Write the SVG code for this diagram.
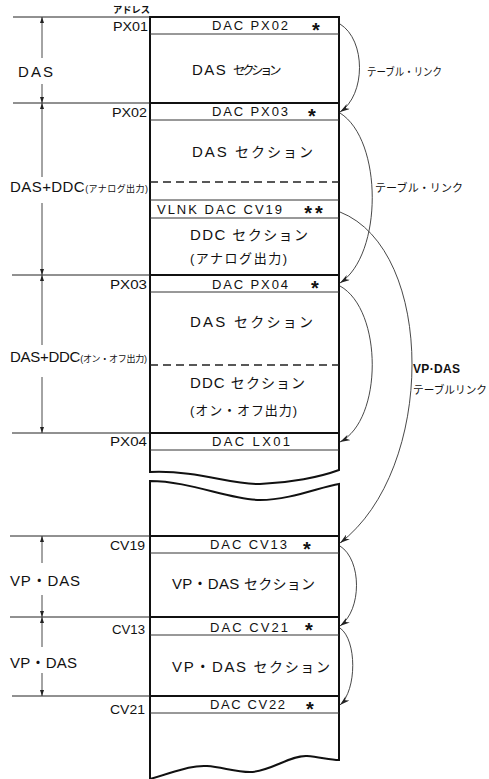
<svg xmlns="http://www.w3.org/2000/svg" width="489" height="779" viewBox="0 0 489 779">
<defs>
<style>
text{font-family:"Liberation Sans","Noto Sans CJK JP",sans-serif;fill:#111}
.frame{fill:none;stroke:#111;stroke-width:2}
.sep{stroke:#111;stroke-width:2}
.row{stroke:#333;stroke-width:1}
.ext{stroke:#222;stroke-width:1}
.dash{stroke:#222;stroke-width:1.3;stroke-dasharray:8 5}
.arc{fill:none;stroke:#333;stroke-width:0.9}
.dim{stroke:#333;stroke-width:0.9}
.hdr{font-size:13px}
.adr{font-size:12px}
.big{font-size:15px}
.sm{font-size:9px}
.kana{font-size:14px}
.star{font-size:20px;font-weight:bold;text-anchor:middle}
.note{font-size:11px}
</style>
<marker id="ah" viewBox="0 0 10 6" refX="10" refY="3" markerWidth="10" markerHeight="6" markerUnits="userSpaceOnUse" orient="auto"><path d="M0,0 L10,3 L0,6 L3,3 z" fill="#222"/></marker>
<marker id="dh" viewBox="0 0 6 4" refX="6" refY="2" markerWidth="6" markerHeight="4" markerUnits="userSpaceOnUse" orient="auto"><path d="M0,0 L6,2 L0,4 z" fill="#222"/></marker>
</defs>
<rect width="489" height="779" fill="#fff"/>

<g id="frame">
<path class="frame" d="M150,472 C200,470 230,485 260,484 C290,483 320,477 339,470 L339,17 L150,17 Z"/>
<path class="frame" d="M150,779 L150,481 C190,481 230,500 260,500 C290,500 320,487 339,484 L339,760 C330,760 320,757 307,756 C290,755 270,772 250,772 C235,772 222,767 207,766 C190,765 175,772 150,779"/>
<text x="113" y="13" class="sm" font-weight="bold" textLength="37" lengthAdjust="spacingAndGlyphs">アドレス</text>
</g>

<g id="dimensions">
<line class="ext" x1="13" y1="17" x2="150" y2="17"/>
<line class="ext" x1="13" y1="103" x2="150" y2="103"/>
<line class="ext" x1="12" y1="275" x2="150" y2="275"/>
<line class="ext" x1="12" y1="433" x2="150" y2="433"/>
<line class="ext" x1="10" y1="536" x2="150" y2="536"/>
<line class="ext" x1="10" y1="617" x2="150" y2="617"/>
<line class="ext" x1="12" y1="696" x2="150" y2="696"/>
<path class="dim" d="M42,58 L42,17" marker-end="url(#dh)"/>
<path class="dim" d="M42,84 L42,103" marker-end="url(#dh)"/>
<path class="dim" d="M42,177 L42,103" marker-end="url(#dh)"/>
<path class="dim" d="M42,203 L42,275" marker-end="url(#dh)"/>
<path class="dim" d="M42,345 L42,275" marker-end="url(#dh)"/>
<path class="dim" d="M42,377 L42,433" marker-end="url(#dh)"/>
<path class="dim" d="M42,563 L42,536" marker-end="url(#dh)"/>
<path class="dim" d="M42,595 L42,617" marker-end="url(#dh)"/>
<path class="dim" d="M42,647 L42,617" marker-end="url(#dh)"/>
<path class="dim" d="M42,673 L42,696" marker-end="url(#dh)"/>
<text x="18" y="77" class="big" textLength="35">DAS</text>
<text x="10" y="192" class="big" textLength="138">DAS+DDC<tspan class="sm">(アナログ出力)</tspan></text>
<text x="10" y="362" class="big" textLength="137">DAS+DDC<tspan class="sm">(オン・オフ出力)</tspan></text>
<text x="10" y="586" class="big" textLength="70">VP・DAS</text>
<text x="10" y="668" class="big" textLength="67">VP・DAS</text>
</g>

<g id="node-px01">
<line class="row" x1="150" y1="34" x2="339" y2="34"/>
<text x="113" y="31" class="adr" textLength="35" lengthAdjust="spacingAndGlyphs">PX01</text>
<text x="212" y="30" class="hdr" textLength="76">DAC PX02</text>
<text x="316" y="37" class="star">*</text>
<text x="192" y="75" class="big" letter-spacing="1.5">DAS <tspan style="font-size:12.5px;letter-spacing:-3.5px">セクション</tspan></text>
</g>

<g id="node-px02">
<line class="sep" x1="150" y1="103" x2="339" y2="103"/>
<line class="row" x1="150" y1="120" x2="339" y2="120"/>
<text x="112" y="117" class="adr" textLength="35" lengthAdjust="spacingAndGlyphs">PX02</text>
<text x="212" y="116" class="hdr" textLength="76">DAC PX03</text>
<text x="312" y="123" class="star">*</text>
<text x="192" y="157" class="big" textLength="121">DAS <tspan class="kana">セクション</tspan></text>
<line class="dash" x1="150" y1="182" x2="339" y2="182"/>
<line class="row" x1="150" y1="200" x2="339" y2="200"/>
<line class="row" x1="150" y1="218" x2="339" y2="218"/>
<text x="157" y="214" class="hdr" textLength="125">VLNK DAC CV19</text>
<text x="315" y="220" class="star" letter-spacing="3">**</text>
<text x="190" y="240" class="big" textLength="118">DDC <tspan class="kana">セクション</tspan></text>
<text x="190" y="263" class="big" textLength="97" style="font-size:13px">(アナログ出力)</text>
</g>

<g id="node-px03">
<line class="sep" x1="150" y1="275" x2="339" y2="275"/>
<line class="row" x1="150" y1="292" x2="339" y2="292"/>
<text x="110" y="289" class="adr" textLength="37" lengthAdjust="spacingAndGlyphs">PX03</text>
<text x="212" y="289" class="hdr" textLength="76">DAC PX04</text>
<text x="315" y="295" class="star">*</text>
<text x="190" y="327" class="big" textLength="123">DAS <tspan class="kana">セクション</tspan></text>
<line class="dash" x1="150" y1="365" x2="339" y2="365"/>
<text x="190" y="388" class="big" textLength="115">DDC <tspan class="kana">セクション</tspan></text>
<text x="190" y="415" class="big" textLength="107" style="font-size:13px">(オン・オフ出力)</text>
</g>

<g id="node-px04">
<line class="sep" x1="150" y1="433" x2="339" y2="433"/>
<line class="row" x1="150" y1="450" x2="339" y2="450"/>
<text x="110" y="446" class="adr" textLength="37" lengthAdjust="spacingAndGlyphs">PX04</text>
<text x="212" y="446" class="hdr" textLength="78">DAC LX01</text>
</g>

<g id="node-cv19">
<line class="sep" x1="150" y1="536" x2="339" y2="536"/>
<line class="row" x1="150" y1="553" x2="339" y2="553"/>
<text x="110" y="550" class="adr" textLength="35" lengthAdjust="spacingAndGlyphs">CV19</text>
<text x="210" y="549" class="hdr" textLength="77">DAC CV13</text>
<text x="307" y="556" class="star">*</text>
<text x="172" y="589" class="big" textLength="143">VP・DAS <tspan class="kana">セクション</tspan></text>
</g>

<g id="node-cv13">
<line class="sep" x1="150" y1="617" x2="339" y2="617"/>
<line class="row" x1="150" y1="635" x2="339" y2="635"/>
<text x="112" y="634" class="adr" textLength="33" lengthAdjust="spacingAndGlyphs">CV13</text>
<text x="210" y="632" class="hdr" textLength="78">DAC CV21</text>
<text x="309" y="637" class="star">*</text>
<text x="172" y="672" class="big" textLength="158">VP・DAS <tspan class="kana">セクション</tspan></text>
</g>

<g id="node-cv21">
<line class="sep" x1="150" y1="696" x2="339" y2="696"/>
<line class="row" x1="150" y1="713" x2="339" y2="713"/>
<text x="110" y="714" class="adr" textLength="35" lengthAdjust="spacingAndGlyphs">CV21</text>
<text x="210" y="709" class="hdr" textLength="75">DAC CV22</text>
<text x="310" y="716" class="star">*</text>
</g>

<g id="connectors">
<path class="arc" d="M340,24 C366,40 366,95 340,112" marker-end="url(#ah)"/>
<path class="arc" d="M340,113 C383,140 383,255 340,283" marker-end="url(#ah)"/>
<path class="arc" d="M340,212 C436,250 436,470 340,543" marker-end="url(#ah)"/>
<path class="arc" d="M340,286 C383,310 383,420 340,442" marker-end="url(#ah)"/>
<path class="arc" d="M340,546 C362,560 362,610 340,626" marker-end="url(#ah)"/>
<path class="arc" d="M340,628 C357,640 357,690 340,705" marker-end="url(#ah)"/>
<text x="367" y="76" class="note" textLength="75" lengthAdjust="spacingAndGlyphs">テーブル・リンク</text>
<text x="375" y="192" class="note" textLength="88">テーブル・リンク</text>
<text x="413" y="373" style="font-size:12px;font-weight:bold" textLength="47">VP·DAS</text>
<text x="413" y="394" class="note" textLength="74" lengthAdjust="spacingAndGlyphs">テーブルリンク</text>
</g>
</svg>
